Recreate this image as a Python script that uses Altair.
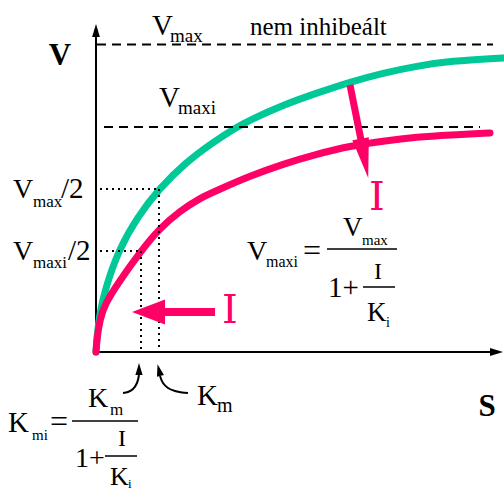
import altair as alt
import pandas as pd

PINK = "#FF0066"
GREEN = "#00C896"
SERIF = "Liberation Serif"
SERIF_ALT = "DejaVu Serif"
SERIF_TIMES = "Times New Roman"

# Reaction rate V against substrate concentration S, sampled along both curves
S_uninhibited = [0, 1, 4, 9, 22, 42, 63, 89, 116, 139, 154, 187, 221, 254, 287, 321, 354, 407]
V_uninhibited = [0, 16, 40, 62, 101, 136, 163, 189, 209, 224, 232, 247, 259, 270, 279, 286, 291, 294]
S_inhibited = [0, 1, 4, 9, 22, 45, 63, 84, 104, 122, 154, 187, 221, 254, 287, 321, 354, 394]
V_inhibited = [0, 14, 33, 48, 69, 101, 123, 141, 154, 162, 176, 188, 198, 206, 211, 215, 217, 219]

# Characteristic levels of the two curves
VMAX = 307.5
VMAXI = 225
VMAX_HALF = 163
VMAXI_HALF = 101
KM = 63
KMI = 45

# Labels: text, S, V, font size
LABELS = [
    ("V", 56, 317, 29), ("max", 74, 310, 19),
    ("nem inhibeált", 154, 317, 25),
    ("V", 63, 245, 29), ("maxi", 82, 238, 19),
    ("V", -83, 154, 28), ("max", -63, 145, 17), ("/2", -35, 154, 29),
    ("V", -83, 92, 28), ("maxi", -63, 84, 17), ("/2", -28, 92, 29),
    ("V", 151, 92, 28), ("maxi", 170, 85, 16),
    ("V", 247, 116, 27), ("max", 266, 107, 15),
    ("1+", 232, 55, 29),
    ("K", 271, 31, 27), ("i", 290, 25, 14),
    ("K", -88, -80, 29), ("mi", -64, -88, 15),
    ("K", -8, -55, 28), ("m", 14, -63, 17),
    ("1+", -21, -115, 28),
    ("K", 14, -133, 26), ("i", 32, -136, 13),
    ("K", 101, -53, 29), ("m", 121, -60, 20),
]
CENTERED = [("=", 216, 91, 32), ("=", -37, -80, 32), ("I", 282, 73, 24), ("I", 26, -94, 24)]
INHIBITOR = [("I", 281, 142, 40), ("I", 134, 29, 40)]
AXIS_TITLES = [("V", -36, 287, 31), ("S", 391, -64, 31)]

xs = alt.Scale(domain=[-96, 408], nice=False, zero=False)
ys = alt.Scale(domain=[-138, 352], nice=False, zero=False)


def X(f="s"):
    return alt.X(f"{f}:Q", scale=xs, axis=None)


def Y(f="v"):
    return alt.Y(f"{f}:Q", scale=ys, axis=None)


def curve(s, v, color):
    df = pd.DataFrame({"s": s, "v": v, "i": range(len(s))})
    return alt.Chart(df).mark_line(
        color=color, strokeWidth=7, strokeCap="round", interpolate="basis"
    ).encode(x=X(), y=Y(), order="i:Q")


def hrules(rows, **mark):
    df = pd.DataFrame(rows, columns=["s", "s2", "v"])
    return alt.Chart(df).mark_rule(**mark).encode(x=X(), x2="s2:Q", y=Y())


def vrules(rows, **mark):
    df = pd.DataFrame(rows, columns=["s", "v", "v2"])
    return alt.Chart(df).mark_rule(**mark).encode(x=X(), y=Y(), y2="v2:Q")


def path(points, color, width, interp="linear"):
    df = pd.DataFrame(points, columns=["s", "v"])
    df["i"] = range(len(df))
    return alt.Chart(df).mark_line(
        color=color, strokeWidth=width, interpolate=interp
    ).encode(x=X(), y=Y(), order="i:Q")


def head(s, v, angle, shape, size, color):
    df = pd.DataFrame({"s": [s], "v": [v]})
    return alt.Chart(df).mark_point(
        shape=shape, size=size, angle=angle, filled=True, opacity=1,
        color=color, strokeWidth=0,
    ).encode(x=X(), y=Y())


def texts(rows, font, align="left", **mark):
    out = []
    for t, s, v, fs in rows:
        df = pd.DataFrame({"t": [t], "s": [s], "v": [v]})
        out.append(alt.Chart(df).mark_text(
            font=font, fontSize=fs, align=align, baseline="alphabetic", **mark
        ).encode(x=X(), y=Y(), text="t:N"))
    return out


THIN = "M0,-1L0.6,1L-0.6,1Z"
NARROW = "M0,-1L0.42,1L-0.42,1Z"
WIDE = "M0,-1L0.76,1L-0.76,1Z"

layers = []
layers += texts(LABELS, SERIF)
layers += texts(CENTERED, SERIF_TIMES, align="center")
layers += texts(INHIBITOR, SERIF_ALT, align="center", color=PINK)
layers += texts(AXIS_TITLES, SERIF, align="center", fontWeight="bold")

layers += [
    # axes
    vrules([(0, 0, 316)], color="black", strokeWidth=2),
    hrules([(0, 396, 0)], color="black", strokeWidth=2),
    head(0, 321.5, 0, THIN, 169, "black"),
    head(400.5, 0, 90, THIN, 169, "black"),
    # curves
    curve(S_uninhibited, V_uninhibited, GREEN),
    curve(S_inhibited, V_inhibited, PINK),
    # Vmax levels
    hrules([(1, 397, VMAX), (8, 384, VMAXI)], color="black", strokeWidth=2, strokeDash=[9, 6]),
    # half-maximum guides
    hrules([(4, KM, VMAX_HALF), (4, KMI, VMAXI_HALF)], color="black", strokeWidth=2, strokeDash=[2, 4]),
    vrules([(KM, VMAX_HALF, 0), (KMI, VMAXI_HALF, 0)], color="black", strokeWidth=2, strokeDash=[2, 4]),
    # inhibitor arrows
    path([(254, 267), (265, 212)], PINK, 7),
    head(268.4, 193.6, 169, NARROW, 1600, PINK),
    path([(119, 40), (66, 40)], PINK, 8),
    head(52.5, 40, 270, WIDE, 1089, PINK),
    # curved pointers to Km values
    path([(43, -23), (41, -31), (37, -37), (32, -40), (27, -41)], "black", 2, "catmull-rom"),
    head(43, -17, 0, THIN, 144, "black"),
    path([(64, -24), (67, -31), (72, -36), (79, -39), (86, -40.5), (92, -41)], "black", 2, "catmull-rom"),
    head(63, -18, 346, THIN, 144, "black"),
    # fraction bars
    hrules([(231, 301, 103), (267, 299, 65), (-24, 42, -69), (9, 41, -104)], color="black", strokeWidth=1.5),
]

chart = alt.layer(*layers).properties(
    width=504, height=490, padding=0, autosize=alt.AutoSizeParams(type="none")
).configure_view(stroke=None)

chart.save("out.html", embed_options={"renderer": "svg", "actions": False})
